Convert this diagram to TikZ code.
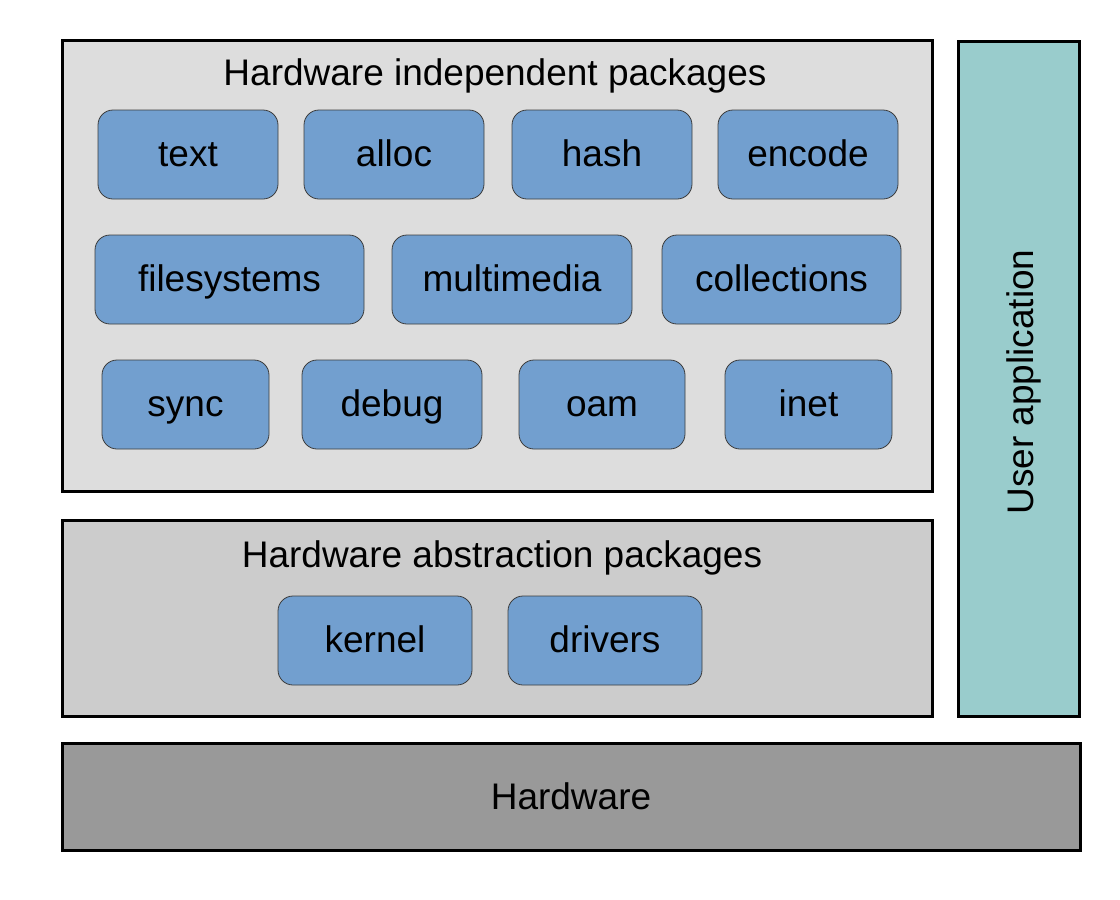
\documentclass[tikz,border=0pt]{standalone}
\usepackage{fontspec}
\setmainfont{Liberation Sans}
\begin{document}
\definecolor{pkgblue}{HTML}{729FCF}
\definecolor{pkgedge}{HTML}{3C3C3C}
\definecolor{indepfill}{HTML}{DDDDDD}
\definecolor{abstrfill}{HTML}{CCCCCC}
\definecolor{hwfill}{HTML}{999999}
\definecolor{appfill}{HTML}{99CCCC}
\begin{tikzpicture}[x=1pt,y=-1pt,
  font=\fontsize{37}{44}\selectfont,
  layer/.style={draw=black,line width=3pt},
  pkg/.style={draw=pkgedge,line width=0.8pt,fill=pkgblue,rounded corners=15pt,
              inner sep=0pt,minimum height=89pt,text height=26pt,text depth=3pt},
  caption/.style={inner sep=0pt,anchor=base}]
\useasboundingbox (0,0) rectangle (1120,900);

% layers
\draw[layer,fill=indepfill] (62,40) rectangle (932,491);
\draw[layer,fill=abstrfill] (62,520) rectangle (932,716);
\draw[layer,fill=hwfill] (62,743) rectangle (1080,850);
\draw[layer,fill=appfill] (958,41) rectangle (1079,716);

\node[caption] (indep) at (495,85) {Hardware independent packages};
\node[caption] (abstr) at (502,567) {Hardware abstraction packages};
\node[caption] (hw) at (571,809) {Hardware};
\node[caption,rotate=90] (app) at (1033,382) {User application};

% hardware independent packages
\node[pkg,minimum width=180pt] (text) at (188,154.5) {text};
\node[pkg,minimum width=180pt] (alloc) at (394,154.5) {alloc};
\node[pkg,minimum width=180pt] (hash) at (602,154.5) {hash};
\node[pkg,minimum width=180pt] (encode) at (808,154.5) {encode};

\node[pkg,minimum width=269pt] (filesystems) at (229.5,279.5) {filesystems};
\node[pkg,minimum width=240pt] (multimedia) at (512,279.5) {multimedia};
\node[pkg,minimum width=239pt] (collections) at (781.5,279.5) {collections};

\node[pkg,minimum width=167pt] (sync) at (185.5,404.5) {sync};
\node[pkg,minimum width=180pt] (debug) at (392,404.5) {debug};
\node[pkg,minimum width=166pt] (oam) at (602,404.5) {oam};
\node[pkg,minimum width=167pt] (inet) at (808.5,404.5) {inet};

% hardware abstraction packages
\node[pkg,minimum width=194pt] (kernel) at (375,640.5) {kernel};
\node[pkg,minimum width=194pt] (drivers) at (605,640.5) {drivers};
\end{tikzpicture}
\end{document}
